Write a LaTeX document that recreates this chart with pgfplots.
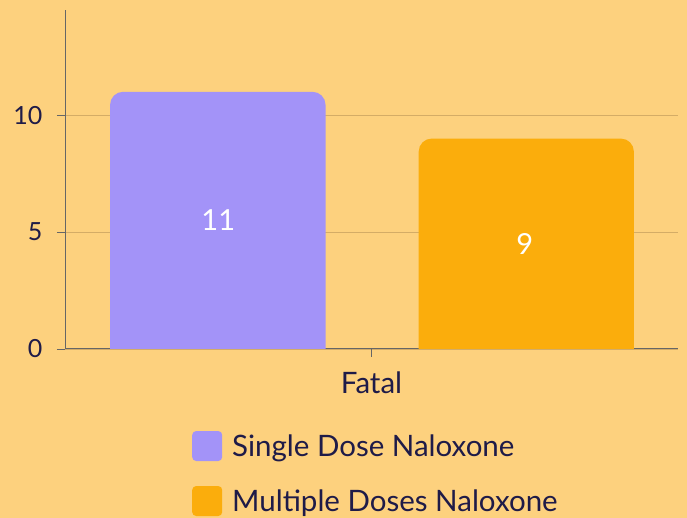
\documentclass[border=0pt]{standalone}
\usepackage{fontspec}
\setmainfont{Lato}
\usepackage{pgfplots}
\pgfplotsset{compat=1.18}
\definecolor{bg}{HTML}{FDD17E}
\definecolor{purp}{HTML}{A393F8}
\definecolor{orng}{HTML}{FBAD0C}
\definecolor{gridc}{HTML}{D4AC66}
\definecolor{axc}{HTML}{666666}
\definecolor{txt}{HTML}{1F1B48}
\begin{document}
\begin{tikzpicture}[x=1pt,y=1pt]
\fill[bg] (0,0) rectangle (687,518);
\begin{axis}[
  at={(65pt,169pt)}, anchor=south west,
  scale only axis, width=613pt, height=339pt,
  xmin=-1, xmax=1, ymin=0, ymax=14.5,
  axis x line*=bottom, axis y line*=left,
  axis line style={draw=axc, line width=1pt},
  xtick={0}, xticklabels={Fatal},
  ytick={0,5,10},
  tick align=outside, major tick length=8pt,
  tick style={draw=axc, line width=0.8pt},
  ymajorgrids, grid style={gridc, line width=0.8pt},
  yticklabel style={font=\fontsize{25}{30}\selectfont, text=txt, xshift=-11pt},
  xticklabel style={font=\fontsize{29.5}{34}\selectfont, text=txt, yshift=-11pt},
  /pgf/number format/assume math mode=true,
  legend style={at={(0.2075,-0.242)}, anchor=north west, draw=none, fill=none,
    inner sep=0pt, outer sep=0pt,
    font=\fontsize{29.5}{34}\selectfont, text=txt,
    row sep=25pt, column sep=8pt},
  legend cell align=left,
  legend image code/.code={\fill[#1, rounded corners=4pt] (0pt,-15pt) rectangle (30pt,15pt);},
]
\addplot[fill=purp, draw=none, rounded corners=13pt]
  coordinates {(-0.853,-2) (-0.853,11) (-0.150,11) (-0.150,-2)} -- cycle;
\addlegendentry{Single Dose Naloxone}
\addplot[fill=orng, draw=none, rounded corners=13pt]
  coordinates {(0.154,-2) (0.154,9) (0.856,9) (0.856,-2)} -- cycle;
\addlegendentry{Multiple Doses Naloxone}
\addplot[draw=none, mark=none, forget plot, nodes near coords,
  point meta=explicit symbolic,
  nodes near coords style={anchor=center, text=white, font=\fontsize{29}{34}\selectfont}]
  coordinates {(-0.5,5.5)[11] (0.5,4.5)[9]};
\end{axis}
\end{tikzpicture}
\end{document}
